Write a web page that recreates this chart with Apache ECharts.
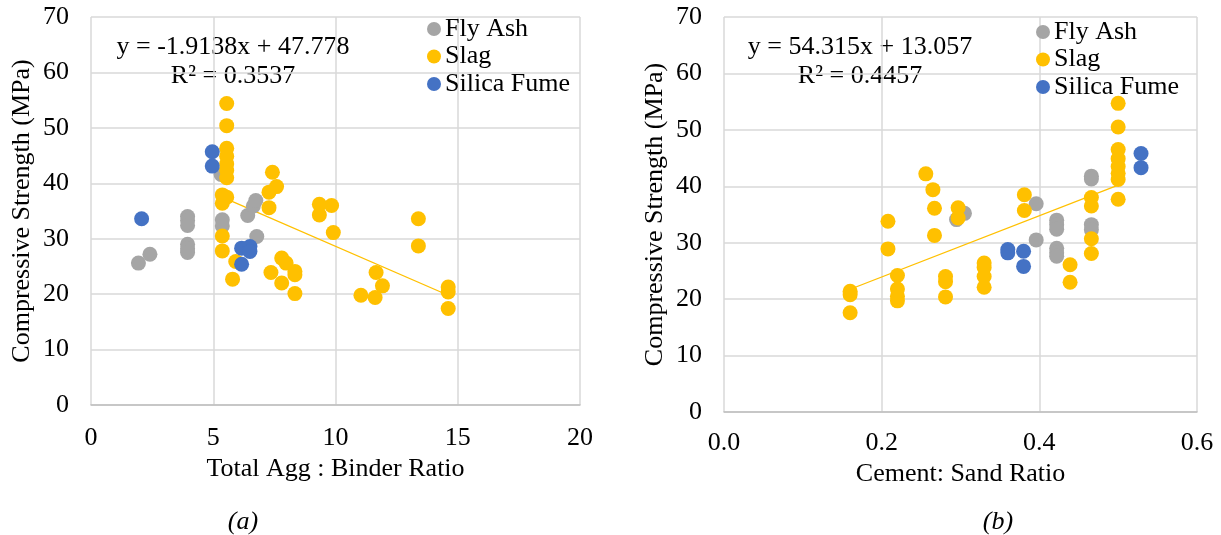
<!DOCTYPE html>
<html>
<head>
<meta charset="utf-8">
<script src="https://cdn.jsdelivr.net/npm/echarts@6/dist/echarts.min.js"></script>
<style>
html,body{margin:0;padding:0;background:#fff;}
#c{width:1221px;height:535px;}
</style>
</head>
<body>
<div id="c"></div>
<script>
// ---- Data: chart (a) Total Agg : Binder Ratio vs Compressive Strength ----
const flyAshA = [[1.94,25.6],[2.41,27.2],[3.95,34.0],[3.95,33.3],[3.95,32.4],[3.95,29.0],[3.95,28.2],[3.95,27.5],[5.32,41.6],[5.37,33.4],[5.37,32.3],[6.41,34.2],[6.64,35.9],[6.74,36.9],[6.78,30.4]];
const slagA = [[5.55,54.4],[5.55,50.4],[5.55,46.3],[5.55,44.9],[5.55,43.5],[5.55,42.3],[5.55,41.0],[5.37,37.9],[5.55,37.5],[5.37,36.4],[5.37,30.5],[5.37,27.8],[5.92,25.9],[5.79,22.7],[7.42,42.0],[7.59,39.4],[7.28,38.4],[7.28,35.6],[7.8,26.5],[7.98,25.6],[8.34,24.1],[8.34,23.5],[7.36,23.9],[7.8,22.0],[8.34,20.1],[9.34,36.2],[9.84,36.0],[9.34,34.3],[9.91,31.1],[13.39,33.6],[13.39,28.7],[11.66,23.9],[11.92,21.5],[11.04,19.8],[11.62,19.4],[14.61,21.3],[14.61,20.4],[14.61,17.4]];
const silicaA = [[2.07,33.6],[4.96,45.7],[4.96,43.1],[6.16,28.3],[6.5,28.6],[6.5,27.7],[6.16,25.4]];
const trendA = [[5.37,37.5],[14.61,19.8]];
const equationA = ['y = -1.9138x + 47.778', 'R² = 0.3537'];

// ---- Data: chart (b) Cement: Sand Ratio vs Compressive Strength ----
const flyAshB = [[0.295,34.1],[0.305,35.2],[0.396,36.9],[0.396,30.5],[0.422,34.0],[0.422,33.2],[0.422,32.4],[0.422,29.0],[0.422,28.2],[0.422,27.6],[0.466,41.8],[0.466,41.3],[0.466,33.2],[0.466,32.3]];
const slagB = [[0.16,21.4],[0.16,20.8],[0.16,17.6],[0.208,33.8],[0.208,28.9],[0.22,24.2],[0.22,21.8],[0.22,20.5],[0.22,19.7],[0.256,42.2],[0.265,39.4],[0.267,36.1],[0.267,31.3],[0.281,24.0],[0.281,23.1],[0.281,20.4],[0.297,36.2],[0.297,34.4],[0.33,26.4],[0.33,25.6],[0.33,24.0],[0.33,22.1],[0.381,38.5],[0.381,35.7],[0.439,26.1],[0.439,23.0],[0.466,38.0],[0.466,36.5],[0.466,30.7],[0.466,28.1],[0.5,54.7],[0.5,50.5],[0.5,46.5],[0.5,44.9],[0.5,43.5],[0.5,42.3],[0.5,41.2],[0.5,37.7]];
const silicaB = [[0.36,28.8],[0.36,28.2],[0.38,28.5],[0.38,25.8],[0.529,45.8],[0.529,43.3]];
const trendB = [[0.16,21.75],[0.5,40.2]];
const equationB = ['y = 54.315x + 13.057', 'R² = 0.4457'];

const seriesNames = ['Fly Ash','Slag','Silica Fume'];
const xTitles = ['Total Agg : Binder Ratio','Cement: Sand Ratio'];
const yTitle = 'Compressive Strength (MPa)';
const captions = ['(a)','(b)'];

const FONT = '"Liberation Serif","Times New Roman",serif';
const COLORS = ['#A5A5A5','#FFC000','#4472C4'];
const chart = echarts.init(document.getElementById('c'), null, {renderer:'canvas'});

function yAxis(idx){
  return {
    gridIndex: idx, type:'value', min:0, max:70, interval:10,
    name: yTitle, nameLocation:'middle', nameGap:56, nameRotate:90,
    nameTextStyle:{fontFamily:FONT,fontSize:26,color:'#000'},
    axisLine:{show:false}, axisTick:{show:false},
    axisLabel:{fontFamily:FONT,fontSize:26,color:'#000',margin:22},
    splitLine:{lineStyle:{color:'#D9D9D9',width:1.5}}
  };
}
function xAxis(idx, max, interval, fmt, nameGap, margin){
  return {
    gridIndex: idx, type:'value', min:0, max:max, interval:interval,
    name: xTitles[idx], nameLocation:'middle', nameGap:nameGap,
    nameTextStyle:{fontFamily:FONT,fontSize:26,color:'#000'},
    axisLine:{show:true,lineStyle:{color:'#BFBFBF',width:1.5}}, axisTick:{show:false},
    axisLabel:{fontFamily:FONT,fontSize:26,color:'#000',margin:margin,formatter:fmt},
    splitLine:{lineStyle:{color:'#D9D9D9',width:1.5}}
  };
}
function scatter(name, data, idx, color){
  return {name:name, type:'scatter', xAxisIndex:idx, yAxisIndex:idx, data:data,
    symbol:'circle', symbolSize:15, itemStyle:{color:color,opacity:1}, z:3};
}
function trend(data, idx){
  return {type:'line', xAxisIndex:idx, yAxisIndex:idx, data:data, symbol:'none',
    lineStyle:{color:'#FFC000',width:1.3}, silent:true, z:2};
}
function legend(left, top){
  return {data:seriesNames, orient:'vertical', left:left, top:top, icon:'circle',
    itemWidth:14, itemHeight:14, itemGap:1.5, selectedMode:false,
    textStyle:{fontFamily:FONT,fontSize:26,color:'#000',lineHeight:26,padding:[0,0,0,-1]}};
}
function textEl(x, y, txt, italic){
  return {type:'text', x:x, y:y, style:{text:txt, fill:'#000', font:(italic?'italic ':'')+'26px '+FONT, textAlign:'center', textVerticalAlign:'middle'}};
}

chart.setOption({
  animation:false,
  backgroundColor:'#fff',
  grid:[
    {left:91, top:17, width:489, height:388},
    {left:724, top:17, width:473, height:395}
  ],
  xAxis:[
    xAxis(0, 20, 5, v => String(v), 48, 20),
    xAxis(1, 0.6, 0.2, v => v.toFixed(1), 42, 18)
  ],
  yAxis:[yAxis(0), yAxis(1)],
  legend:[legend(422,11), legend(1031,14)],
  series:[
    trend(trendA,0),
    scatter(seriesNames[0], flyAshA, 0, COLORS[0]),
    scatter(seriesNames[1], slagA, 0, COLORS[1]),
    scatter(seriesNames[2], silicaA, 0, COLORS[2]),
    trend(trendB,1),
    scatter(seriesNames[0], flyAshB, 1, COLORS[0]),
    scatter(seriesNames[1], slagB, 1, COLORS[1]),
    scatter(seriesNames[2], silicaB, 1, COLORS[2])
  ],
  graphic:[
    textEl(233, 47, equationA[0]),
    textEl(233, 76, equationA[1]),
    textEl(860, 47, equationB[0]),
    textEl(860, 76, equationB[1]),
    textEl(243, 522, captions[0], true),
    textEl(998, 522, captions[1], true)
  ]
});
</script>
</body>
</html>
